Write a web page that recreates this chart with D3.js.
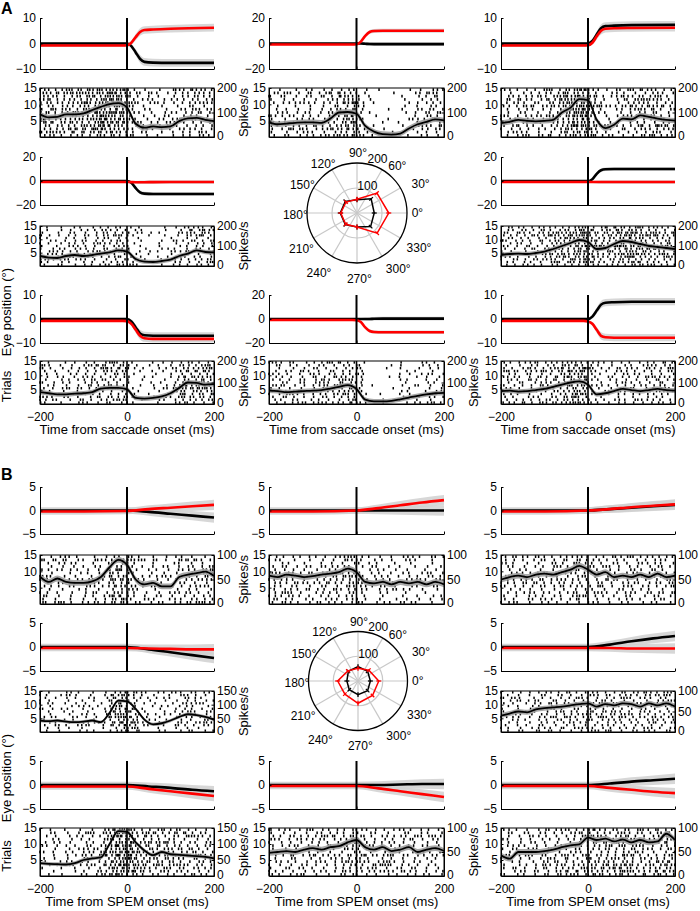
<!DOCTYPE html>
<html><head><meta charset="utf-8">
<script src="https://cdn.jsdelivr.net/npm/d3@7"></script>
<style>
body{margin:0;background:#fff}
text{font-family:"Liberation Sans",Arial,Helvetica,sans-serif;fill:#000}
</style></head><body>
<svg id="fig" width="700" height="911"></svg>
<script>
// ---------------- DATA ----------------
const rateTimes = d3.range(-200, 201, 20);           // ms
// firing rate (spikes/s) per direction, section A (saccades)
const rateA135 = [93,80,82,92,92,96,110,123,134,138,120,54,38,43,40,43,65,76,78,70,65];
const rateA90  = [60,52,55,58,60,60,58,75,100,102,95,45,22,12,10,14,35,52,62,72,68];
const rateA45  = [57,62,70,66,64,66,70,100,120,155,150,70,36,50,75,72,88,82,75,70,67];
const rateA180 = [50,42,40,50,55,50,55,62,68,78,72,35,22,20,25,32,50,62,78,70,68];
const rateA0   = [55,60,62,60,65,72,85,100,115,130,120,85,90,110,125,120,110,100,95,90,85];
const rateA225 = [55,50,45,45,48,50,55,72,75,75,68,28,25,28,35,50,75,100,98,90,92];
const rateA270 = [62,60,55,58,60,62,65,72,80,88,70,20,12,12,15,22,30,38,45,50,52];
const rateA315 = [60,62,58,60,65,70,80,90,100,105,90,45,50,60,70,65,60,65,70,65,62];
// section B (SPEM)
const rateB135 = [56,45,52,45,43,43,46,55,75,90,80,50,40,43,36,36,55,60,63,66,57];
const rateB90  = [58,55,60,58,55,57,60,62,65,72,65,45,42,45,40,45,42,45,40,45,40];
const rateB45  = [50,55,58,55,60,62,60,65,70,78,70,60,65,55,58,55,60,55,62,55,58];
const rateB180 = [42,40,42,38,36,38,42,36,70,115,112,85,45,28,32,42,55,65,62,55,45];
const rateB0   = [40,45,50,48,55,58,60,62,65,68,70,62,68,65,70,68,62,70,65,70,62];
const rateB225 = [40,38,37,36,40,50,55,58,100,140,138,105,80,65,75,68,66,64,62,60,55];
const rateB270 = [48,50,52,50,55,58,55,60,62,70,75,60,55,60,52,55,60,50,55,58,52];
const rateB315 = [43,36,50,50,50,52,55,60,64,66,80,75,78,72,76,70,75,70,72,88,75];
const rateSemA = 11, rateSemB = 6;

// eye position (deg): H = horizontal (black), V = vertical (red)
const eyeTimesA = [-200,-10,0,10,20,30,40,60,100,200];
const eyeA135H = [0,0,0,-1,-3.5,-6,-7.2,-7.5,-7.6,-7.6];
const eyeA135V = [-0.8,-0.8,-0.7,0.3,2.5,4.5,5.3,5.5,5.8,6.2];
const eyeA90H  = [0,0,0,0,-0.2,-0.4,-0.5,-0.5,-0.5,-0.5];
const eyeA90V  = [-0.8,-0.8,-0.6,1.5,6,9,9.8,10,10,10];
const eyeA45H  = [0,0,0,1,3.5,6,6.8,7,7.2,7.3];
const eyeA45V  = [-0.8,-0.8,-0.7,0.3,2.8,5,5.8,6,6.1,6.2];
const eyeA180H = [0,0,0,-1.5,-6,-9.5,-10.5,-10.8,-10.8,-10.8];
const eyeA180V = [-0.8,-0.8,-0.8,-0.9,-1,-1,-1,-0.9,-0.8,-0.8];
const eyeA0H   = [0,0,0,1.5,6,9,9.8,10,10,10];
const eyeA0V   = [-0.8,-0.8,-0.8,-0.8,-0.8,-0.8,-0.8,-0.8,-0.8,-0.8];
const eyeA225H = [0,0,0,-1,-3.5,-6,-6.8,-7,-7,-7];
const eyeA225V = [-0.8,-0.8,-0.9,-2,-4.5,-7,-8,-8.3,-8.3,-8.3];
const eyeA270H = [0,0,0,0,0,0,0.2,0.3,0.3,0.3];
const eyeA270V = [-0.8,-0.8,-1,-2.5,-7,-10,-10.8,-11,-11,-11];
const eyeA315H = [0,0,0,1,3.5,6,6.8,7,7.2,7.2];
const eyeA315V = [-0.8,-0.8,-1,-2,-4.5,-7,-7.6,-7.8,-7.8,-7.8];
const eyeSpreadA = [0.5,0.5,0.5,0.8,1.2,1.5,1.5,1.5,1.5,1.5];

const eyeTimesB = [-200,-100,0,50,100,150,200];
const eyeB135H = [0,0,0,-0.3,-0.7,-1.1,-1.5];
const eyeB135V = [-0.2,-0.2,-0.1,0.3,0.6,0.9,1.2];
const eyeB90H  = [0,0,0,0,0,0,0];
const eyeB90V  = [-0.2,-0.2,0,0.5,1.1,1.7,2.2];
const eyeB45H  = [0,0,0,0.3,0.6,0.9,1.2];
const eyeB45V  = [-0.2,-0.2,0,0.3,0.7,1,1.3];
const eyeB180H = [0,0,0,-0.5,-1.1,-1.7,-2.3];
const eyeB180V = [-0.2,-0.2,-0.2,-0.3,-0.4,-0.5,-0.5];
const eyeB0H   = [0,0,0,0.5,1.2,1.8,2.3];
const eyeB0V   = [-0.2,-0.2,-0.2,-0.2,-0.3,-0.3,-0.3];
const eyeB225H = [0,0,0,-0.3,-0.6,-1,-1.3];
const eyeB225V = [-0.3,-0.3,-0.3,-0.8,-1.3,-1.8,-2.3];
const eyeB270H = [0,0,0,0,0.1,0.2,0.2];
const eyeB270V = [-0.2,-0.2,-0.2,-0.7,-1.3,-1.9,-2.5];
const eyeB315H = [0,0,0,0.3,0.7,1,1.3];
const eyeB315V = [-0.2,-0.2,-0.2,-0.6,-1,-1.4,-1.7];
const eyeSpreadB = [0.7,0.7,0.7,0.8,0.9,1.0,1.1];

// axis limits / ticks, in grid order 135,90,45,180,0,225,270,315
const gridDirs = [135, 90, 45, 180, 0, 225, 270, 315];
const eyeLimA  = [10, 20, 10, 20, 20, 10, 20, 10];
const eyeLimB  = [5, 5, 5, 5, 5, 5, 5, 5];
const rateMaxA = [200, 200, 200, 200, 200, 200, 200, 200];
const rateMaxB = [100, 100, 100, 150, 100, 150, 100, 100];
const trialTicks = [5, 10, 15];
const timeTicks = [-200, 0, 200];

// polar tuning (spikes/s) at 0,45,...,315 deg
const polarDirs = [0, 45, 90, 135, 180, 225, 270, 315];
const polarA_black = [69, 80, 53, 66, 67, 66, 56, 77];
const polarA_red   = [127, 113, 55, 62, 65, 64, 56, 114];
const polarB_black = [50, 55, 58, 55, 45, 50, 55, 55];
const polarB_red   = [84, 62, 51, 58, 82, 75, 90, 83];
const polarErr = 10;
const polarAngleLabels = [0,30,60,90,120,150,180,210,240,270,300,330];
const polarRadLabels = [100, 200];

// ---------------- LAYOUT ----------------
const svg = d3.select('#fig');
const cols = [[40,214],[269,444],[501,675]];
const gridRC = {135:[0,0],90:[0,1],45:[0,2],180:[1,0],0:[1,2],225:[2,0],270:[2,1],315:[2,2]};
// label placement around the polar plot (px, for radius 50)
const polarLabelPos = {0:[60.4,0],30:[63.6,-29.7],60:[40.3,-47],90:[1,-60],120:[-33.8,-49.7],150:[-54.7,-28],
  180:[-61.7,1.5],210:[-55.5,35.3],240:[-38,59.5],270:[2.3,65.3],300:[41.2,55.3],330:[62,34.5]};
const polarRadPos = {100:[10.3,-27.2],200:[20.5,-54.7]};
const sections = [
  {name:'A', letterY:14, eyeRows:[[18,69],[157,205],[295,343]], rasRows:[[88,137],[226,266],[361,404]],
   xlab:'Time from saccade onset (ms)', rates:{135:rateA135,90:rateA90,45:rateA45,180:rateA180,0:rateA0,225:rateA225,270:rateA270,315:rateA315},
   eyeT:eyeTimesA, H:{135:eyeA135H,90:eyeA90H,45:eyeA45H,180:eyeA180H,0:eyeA0H,225:eyeA225H,270:eyeA270H,315:eyeA315H},
   V:{135:eyeA135V,90:eyeA90V,45:eyeA45V,180:eyeA180V,0:eyeA0V,225:eyeA225V,270:eyeA270V,315:eyeA315V},
   spread:eyeSpreadA, lim:eyeLimA, rmax:rateMaxA, sem:rateSemA, polar:{cx:357,cy:213,R:50,black:polarA_black,red:polarA_red}},
  {name:'B', letterY:480, eyeRows:[[487,534],[623,671],[761,809]], rasRows:[[555,604],[691,732],[828,876]],
   xlab:'Time from SPEM onset (ms)', rates:{135:rateB135,90:rateB90,45:rateB45,180:rateB180,0:rateB0,225:rateB225,270:rateB270,315:rateB315},
   eyeT:eyeTimesB, H:{135:eyeB135H,90:eyeB90H,45:eyeB45H,180:eyeB180H,0:eyeB0H,225:eyeB225H,270:eyeB270H,315:eyeB315H},
   V:{135:eyeB135V,90:eyeB90V,45:eyeB45V,180:eyeB180V,0:eyeB0V,225:eyeB225V,270:eyeB270V,315:eyeB315V},
   spread:eyeSpreadB, lim:eyeLimB, rmax:rateMaxB, sem:rateSemB, polar:{cx:358,cy:681,R:49.5,black:polarB_black,red:polarB_red}}
];

const TICK_FS = 12, LAB_FS = 13, POL_FS = 12;
function frac(x){return x-Math.floor(x);}
function hsh(a){return frac(Math.sin(a*12.9898+78.233)*43758.5453);}

function styleAxis(g){
  g.selectAll('path.domain').attr('stroke','#000').attr('stroke-width',1);
  g.selectAll('.tick line').attr('stroke','#000').attr('stroke-width',1);
  g.selectAll('text').attr('font-size',TICK_FS).attr('font-family','"Liberation Sans",Arial,sans-serif').attr('fill','#000');
}

function drawEye(x0,x1,y0,y1,lim,times,H,V,spread){
  const g = svg.append('g');
  const xs = d3.scaleLinear([-200,200],[x0,x1]);
  const ys = d3.scaleLinear([-lim,lim],[y1,y0]);
  const idx = d3.range(times.length);
  const area = d3.area().x(i=>xs(times[i])).curve(d3.curveMonotoneX);
  [H,V].forEach(arr=>{
    g.append('path').datum(idx)
      .attr('d', area.y0(i=>ys(arr[i]-spread[i])).y1(i=>ys(arr[i]+spread[i])))
      .attr('fill','#d0d0d0').attr('opacity',0.85);
  });
  const line = d3.line().x(i=>xs(times[i])).curve(d3.curveMonotoneX);
  g.append('path').datum(idx).attr('d', line.y(i=>ys(H[i]))).attr('fill','none').attr('stroke','#000').attr('stroke-width',2.6);
  g.append('path').datum(idx).attr('d', line.y(i=>ys(V[i]))).attr('fill','none').attr('stroke','#f00').attr('stroke-width',2.6);
  g.append('line').attr('x1',xs(0)).attr('x2',xs(0)).attr('y1',y0).attr('y2',y1).attr('stroke','#000').attr('stroke-width',2);
  const ax = g.append('g').attr('transform',`translate(${x0},0)`)
    .call(d3.axisLeft(ys).tickValues([-lim,0,lim]).tickSizeInner(-2.5).tickSizeOuter(0).tickPadding(4));
  styleAxis(ax);
  const bx = g.append('g').attr('transform',`translate(0,${y1})`)
    .call(d3.axisBottom(xs).tickValues(timeTicks).tickFormat('').tickSizeInner(-2.5).tickSizeOuter(0));
  styleAxis(bx);
}

function spikeTrain(rates, trial, seed){
  const f = d3.scaleLinear(rateTimes, rates);
  const gain = 0.75 + 0.5*hsh(seed*31+trial*7.3);
  let acc = hsh(seed*17+trial*3.1);
  let thr = 0.4 + 1.2*hsh(seed*13+trial*11.7);
  const out = [];
  for(let t=-200;t<200;t+=0.5){
    acc += f(t)*gain*0.0005;
    if(acc>=thr){ out.push(t); acc-=thr; thr = 0.3+1.4*hsh(seed*101+trial*37.1+t*0.731); }
  }
  return out;
}

function drawRaster(x0,x1,y0,y1,rates,rmax,sem,seed,showX,xlab,showSpk){
  const g = svg.append('g');
  const xs = d3.scaleLinear([-200,200],[x0,x1]);
  const yt = d3.scaleLinear([0,15],[y1,y0]);
  const yr = d3.scaleLinear([0,rmax],[y1,y0]);
  const rowH = yt(0)-yt(1);
  for(let k=1;k<=15;k++){
    const sp = spikeTrain(rates,k,seed);
    g.append('g').selectAll('rect').data(sp).join('rect')
      .attr('x',t=>xs(t)-0.75).attr('y',yt(k)+rowH*0.08).attr('width',1.5).attr('height',rowH*0.84).attr('fill','#000');
  }
  const idx = d3.range(rateTimes.length);
  g.append('path').datum(idx)
    .attr('d', d3.area().x(i=>xs(rateTimes[i])).y0(i=>yr(Math.max(0,rates[i]-sem))).y1(i=>yr(rates[i]+sem)).curve(d3.curveMonotoneX))
    .attr('fill','#a0a0a0').attr('opacity',0.9);
  g.append('path').datum(idx)
    .attr('d', d3.line().x(i=>xs(rateTimes[i])).y(i=>yr(rates[i])).curve(d3.curveMonotoneX))
    .attr('fill','none').attr('stroke','#000').attr('stroke-width',1.8);
  g.append('line').attr('x1',xs(0)).attr('x2',xs(0)).attr('y1',y0).attr('y2',y1).attr('stroke','#000').attr('stroke-width',1.6);
  g.append('rect').attr('x',x0).attr('y',y0).attr('width',x1-x0).attr('height',y1-y0).attr('fill','none').attr('stroke','#000').attr('stroke-width',1);
  const la = g.append('g').attr('transform',`translate(${x0},0)`)
    .call(d3.axisLeft(yt).tickValues(trialTicks).tickSizeInner(-2.5).tickSizeOuter(0).tickPadding(3));
  styleAxis(la);
  const rticks = rmax===150 ? [0,50,100,150] : [0,rmax/2,rmax];
  const ra = g.append('g').attr('transform',`translate(${x1},0)`)
    .call(d3.axisRight(yr).tickValues(rticks).tickSizeInner(-2.5).tickSizeOuter(0).tickPadding(3));
  styleAxis(ra);
  ra.selectAll('.tick text').filter(d=>d===0).attr('dy','0.2em');
  const ba = g.append('g').attr('transform',`translate(0,${y1})`)
    .call(d3.axisBottom(xs).tickValues(timeTicks).tickSizeInner(-2.5).tickSizeOuter(0).tickPadding(8));
  if(!showX) ba.selectAll('text').remove();
  styleAxis(ba);
  if(showX){
    g.append('text').attr('x',(x0+x1)/2).attr('y',y1+30).attr('text-anchor','middle').attr('font-size',LAB_FS).text(xlab);
  }
  if(showSpk){
    g.append('text').attr('transform',`translate(${x1+34},${(y0+y1)/2}) rotate(-90)`).attr('text-anchor','middle').attr('font-size',LAB_FS).text('Spikes/s');
  }
}

function drawPolar(p){
  const g = svg.append('g').attr('transform',`translate(${p.cx},${p.cy})`);
  const r = d3.scaleLinear([0,200],[0,p.R]);
  const k = p.R/50;
  const rad = a=>a*Math.PI/180;
  polarAngleLabels.forEach(a=>{
    g.append('line').attr('x1',0).attr('y1',0).attr('x2',p.R*Math.cos(rad(a))).attr('y2',-p.R*Math.sin(rad(a)))
      .attr('stroke','#c8c8c8').attr('stroke-width',1.2);
  });
  g.append('circle').attr('r',r(100)).attr('fill','none').attr('stroke','#c8c8c8').attr('stroke-width',1.2);
  g.append('circle').attr('r',r(200)).attr('fill','none').attr('stroke','#000').attr('stroke-width',1.3);
  polarAngleLabels.forEach(a=>{
    const [lx,ly] = polarLabelPos[a];
    g.append('text').attr('x',lx*k).attr('y',ly*k).attr('dy','0.36em')
      .attr('text-anchor','middle').attr('font-size',POL_FS).text(a+'°');
  });
  polarRadLabels.forEach(v=>{
    const [lx,ly] = polarRadPos[v];
    g.append('text').attr('x',lx*k).attr('y',ly*k).attr('dy','0.36em')
      .attr('text-anchor','middle').attr('font-size',POL_FS).text(v);
  });
  const pt = (v,a)=>[r(v)*Math.cos(rad(a)), -r(v)*Math.sin(rad(a))];
  [[p.black,'#000'],[p.red,'#f00']].forEach(([vals,col])=>{
    const pts = vals.map((v,i)=>pt(v,polarDirs[i]));
    g.append('path').attr('d', d3.line().curve(d3.curveLinearClosed)(pts)).attr('fill','none').attr('stroke',col).attr('stroke-width',1.5);
    vals.forEach((v,i)=>{
      const a = polarDirs[i];
      const p1 = pt(v-polarErr,a), p2 = pt(v+polarErr,a);
      g.append('line').attr('x1',p1[0]).attr('y1',p1[1]).attr('x2',p2[0]).attr('y2',p2[1]).attr('stroke',col).attr('stroke-width',1.3);
    });
  });
}

sections.forEach((s,si)=>{
  svg.append('text').attr('x',1).attr('y',s.letterY).attr('font-size',16).attr('font-weight','bold').text(s.name);
  gridDirs.forEach((d,gi)=>{
    const [row,col] = gridRC[d];
    const [x0,x1] = cols[col];
    const [ey0,ey1] = s.eyeRows[row];
    const [ry0,ry1] = s.rasRows[row];
    drawEye(x0,x1,ey0,ey1,s.lim[gi],s.eyeT,s.H[d],s.V[d],s.spread);
    drawRaster(x0,x1,ry0,ry1,s.rates[d],s.rmax[gi],s.sem,si*50+gi+1,row===2,s.xlab,(col===0)||(row===2&&col===1));
  });
  drawPolar(s.polar);
  const er = s.eyeRows[2], rr = s.rasRows[2];
  svg.append('text').attr('transform',`translate(11,${(er[0]+er[1])/2-7}) rotate(-90)`).attr('text-anchor','middle').attr('font-size',LAB_FS).text('Eye position (°)');
  svg.append('text').attr('transform',`translate(11,${(rr[0]+rr[1])/2+4}) rotate(-90)`).attr('text-anchor','middle').attr('font-size',LAB_FS).text('Trials');
});
</script></body></html>
